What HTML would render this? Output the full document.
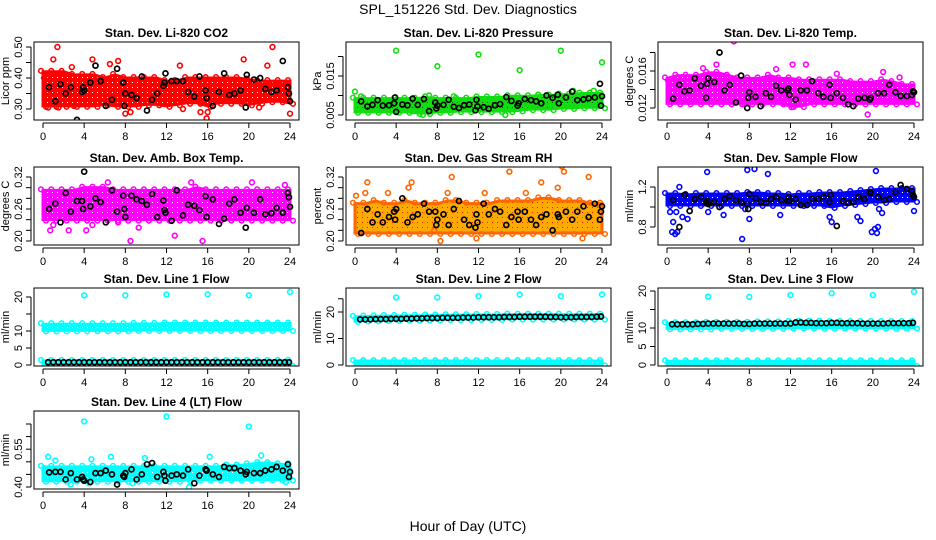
<!DOCTYPE html>
<html><head><meta charset="utf-8">
<style>
html,body{margin:0;padding:0;background:#fff;}
svg{display:block;font-family:"Liberation Sans",Arial,sans-serif;}
</style></head>
<body>
<svg id="chart" width="936" height="540" viewBox="0 0 936 540" xmlns="http://www.w3.org/2000/svg">
<rect x="0" y="0" width="936" height="540" fill="#fff"/>
<text x="468" y="14" text-anchor="middle" font-size="14">SPL_151226  Std. Dev. Diagnostics</text>
<text x="468" y="531" text-anchor="middle" font-size="14">Hour of Day (UTC)</text>
</svg>
<script>
// ---------- shared data ----------
const xTicks = [0,4,8,12,16,20,24];
const bandHours = [0,1,2,3,4,5,6,7,8,9,10,11,12,13,14,15,16,17,18,19,20,21,22,23,24];
const blkHours = [0.6,1.2,1.7,2.2,2.7,3.3,3.8,3.9,4.0,4.6,5.1,5.6,6.1,6.7,7.2,7.8,7.9,8.0,8.6,9.1,9.6,10.1,10.6,11.1,11.7,11.8,11.9,12.5,13.0,13.6,14.1,14.7,15.2,15.8,15.9,16.5,17.1,17.6,18.1,18.6,19.2,19.7,19.8,20.5,21.1,21.6,22.2,22.7,23.3,23.8,23.9,24.0];
const halfHours = [0.5,1,1.5,2,2.5,3,3.5,4,4.5,5,5.5,6,6.5,7,7.5,8,8.5,9,9.5,10,10.5,11,11.5,12,12.5,13,13.5,14,14.5,15,15.5,16,16.5,17,17.5,18,18.5,19,19.5,20,20.5,21,21.5,22,22.5,23,23.5,23.9];

// Panel 1 CO2
const co2Lo = [0.31,0.31,0.31,0.31,0.31,0.31,0.315,0.31,0.31,0.31,0.315,0.315,0.31,0.315,0.32,0.32,0.31,0.32,0.32,0.32,0.315,0.32,0.325,0.325,0.32];
const co2Hi = [0.42,0.42,0.42,0.41,0.41,0.41,0.40,0.41,0.40,0.40,0.40,0.40,0.39,0.39,0.40,0.40,0.40,0.40,0.40,0.40,0.395,0.39,0.39,0.39,0.39];
const co2OutX = [0.1,0.2,0.5,1.0,1.4,1.5,4.8,6.5,7.3,8.0,8.5,13.3,13.6,15.3,15.9,16.0,19.5,21.0,21.8,22.3,24.0,2.8,3.0];
const co2OutY = [0.40,0.345,0.305,0.46,0.50,0.305,0.46,0.445,0.455,0.285,0.29,0.44,0.30,0.29,0.27,0.29,0.46,0.305,0.44,0.50,0.285,0.435,0.31];
const co2Blk = [0.37,0.325,0.38,0.35,0.37,0.265,0.355,0.37,0.36,0.385,0.44,0.39,0.31,0.33,0.43,0.385,0.31,0.35,0.345,0.335,0.405,0.295,0.33,0.35,0.375,0.385,0.415,0.39,0.39,0.39,0.355,0.34,0.405,0.36,0.335,0.31,0.355,0.415,0.345,0.35,0.36,0.305,0.41,0.395,0.40,0.365,0.355,0.36,0.455,0.37,0.35,0.325];

// Panel 2 Pressure
const presLo = [0.0058,0.0058,0.0058,0.0058,0.0058,0.0058,0.0055,0.0055,0.0058,0.0058,0.006,0.006,0.006,0.006,0.006,0.006,0.0062,0.0065,0.0065,0.0065,0.0068,0.0068,0.007,0.007,0.007];
const presHi = [0.0092,0.0092,0.0092,0.0092,0.0092,0.0092,0.0092,0.0095,0.0092,0.0092,0.0092,0.0092,0.0095,0.0095,0.0095,0.0098,0.0098,0.0098,0.010,0.010,0.0102,0.0102,0.0105,0.0105,0.0105];
const presOutX = [0,4,8,12,16,20,24,0.6,14.6,6.6,7.2,9.6,17.8,21.2,23.2];
const presOutY = [0.011,0.0215,0.0175,0.0205,0.0165,0.0215,0.0185,0.0098,0.0050,0.0050,0.0100,0.0098,0.0102,0.0112,0.0112];
const presBlk = [0.0085,0.0072,0.0076,0.0088,0.0074,0.0075,0.0080,0.0095,0.0058,0.0077,0.0075,0.0092,0.0076,0.0091,0.0060,0.0082,0.0067,0.0074,0.0076,0.0089,0.0071,0.0068,0.0075,0.0077,0.0062,0.0089,0.0072,0.0070,0.0066,0.0075,0.0078,0.0096,0.0086,0.0074,0.0080,0.0091,0.0088,0.0085,0.0080,0.0100,0.0094,0.0102,0.0080,0.0095,0.0110,0.0088,0.0090,0.0093,0.0095,0.0130,0.0074,0.0098];

// Panel 3 Li-820 Temp
const tmpLo = [0.0125,0.0125,0.0125,0.0125,0.0125,0.0125,0.0125,0.0125,0.0125,0.0125,0.0125,0.0125,0.0122,0.0122,0.0125,0.0125,0.0125,0.0125,0.0125,0.0125,0.0125,0.0125,0.0125,0.0125,0.0125];
const tmpHi = [0.0152,0.0155,0.0155,0.0155,0.0158,0.0158,0.0155,0.0152,0.0152,0.0152,0.0155,0.0152,0.0152,0.0150,0.0150,0.0150,0.0150,0.0150,0.0148,0.0148,0.0148,0.0150,0.0148,0.0145,0.0145];
const tmpOutX = [6.5,4.8,3.5,12.2,13.5,19.5,7.5,12.1,0.1,0.3,10.6,16.5,21.0,22.6];
const tmpOutY = [0.0192,0.0167,0.0163,0.0167,0.0167,0.0113,0.0124,0.0121,0.0150,0.0150,0.0162,0.0157,0.0159,0.0153];
const tmpBlk = [0.0130,0.0145,0.0138,0.0139,0.0152,0.0144,0.0131,0.0146,0.0152,0.0148,0.0180,0.0139,0.0145,0.0126,0.0155,0.0120,0.0131,0.0137,0.0132,0.0122,0.0136,0.0132,0.0144,0.0139,0.0139,0.0141,0.0134,0.0129,0.0139,0.0139,0.0149,0.0136,0.0132,0.0145,0.0131,0.0136,0.0131,0.0124,0.0122,0.0130,0.0131,0.0129,0.0131,0.0136,0.0136,0.0145,0.0137,0.0133,0.0133,0.0134,0.0138,0.0137];

// Panel 4 Amb Box Temp
const ambLo = [0.24,0.24,0.24,0.24,0.24,0.24,0.24,0.24,0.24,0.24,0.24,0.24,0.24,0.24,0.24,0.24,0.24,0.24,0.24,0.24,0.24,0.24,0.24,0.24,0.24];
const ambHi = [0.295,0.295,0.295,0.295,0.30,0.30,0.30,0.295,0.295,0.295,0.295,0.295,0.295,0.295,0.295,0.30,0.295,0.295,0.295,0.295,0.295,0.295,0.295,0.295,0.295];
const ambOutX = [0.7,2.5,4.2,7.3,12.8,8.5,15.5,4.8,9.3,6.3,14.4,20.3,23.5,1.0];
const ambOutY = [0.22,0.22,0.22,0.235,0.21,0.20,0.20,0.23,0.225,0.31,0.31,0.31,0.305,0.23];
const ambBlk = [0.26,0.27,0.235,0.29,0.255,0.275,0.275,0.26,0.33,0.265,0.28,0.273,0.235,0.295,0.255,0.285,0.26,0.245,0.285,0.278,0.275,0.268,0.288,0.245,0.276,0.258,0.253,0.238,0.295,0.248,0.268,0.266,0.258,0.284,0.245,0.278,0.232,0.242,0.27,0.278,0.253,0.225,0.262,0.253,0.278,0.25,0.252,0.262,0.253,0.29,0.282,0.264];

// Panel 5 Gas Stream RH
const rhLo = [0.215,0.215,0.215,0.215,0.215,0.215,0.215,0.215,0.215,0.215,0.215,0.215,0.215,0.215,0.215,0.215,0.215,0.215,0.215,0.215,0.215,0.215,0.215,0.215,0.215];
const rhHi = [0.27,0.27,0.275,0.27,0.27,0.275,0.27,0.27,0.27,0.275,0.275,0.27,0.27,0.27,0.275,0.275,0.275,0.275,0.28,0.28,0.275,0.275,0.275,0.27,0.27];
const rhOutX = [0.1,1.2,1.0,5.2,5.5,9.0,9.4,15.0,19.7,20.3,20.1,18.1,22.7,8.3,22.1,11.8,7.7,3.2,12.6,16.6];
const rhOutY = [0.285,0.31,0.29,0.30,0.31,0.29,0.32,0.33,0.30,0.33,0.34,0.31,0.32,0.20,0.205,0.205,0.22,0.29,0.29,0.29];
const rhBlk = [0.215,0.26,0.235,0.25,0.235,0.245,0.255,0.24,0.26,0.28,0.235,0.245,0.25,0.27,0.255,0.255,0.23,0.24,0.25,0.23,0.26,0.275,0.24,0.23,0.225,0.25,0.235,0.27,0.25,0.26,0.255,0.23,0.245,0.255,0.24,0.255,0.24,0.23,0.245,0.25,0.22,0.25,0.245,0.255,0.24,0.255,0.265,0.245,0.27,0.24,0.255,0.265];

// Panel 6 Sample Flow
const flwLo = [1.02,1.02,1.02,1.02,1.02,1.02,1.02,1.02,1.02,1.02,1.02,1.02,1.02,1.02,1.02,1.02,1.00,1.02,1.03,1.04,1.05,1.05,1.06,1.06,1.06];
const flwHi = [1.13,1.13,1.12,1.13,1.13,1.13,1.13,1.13,1.14,1.14,1.13,1.13,1.12,1.13,1.13,1.14,1.14,1.14,1.15,1.16,1.17,1.18,1.18,1.18,1.18];
const flwOutX = [0.3,0.5,0.6,0.8,1.0,1.5,2.0,1.2,3.9,7.7,7.8,8.0,8.5,9.8,7.3,11.0,15.8,16.0,18.5,18.8,19.9,20.2,20.4,20.5,20.9,20.6,20.3,7.6,24.0,0.9,4.0,5.5];
const flwOutY = [0.95,0.75,0.85,0.73,0.75,0.90,0.88,1.20,1.35,1.42,1.37,0.88,1.38,1.33,0.68,0.92,0.90,0.85,0.90,0.86,0.75,0.78,0.74,0.80,0.94,0.98,1.36,0.98,0.96,0.95,0.95,0.92];
const flwBlk = [1.07,0.80,1.12,0.96,1.08,1.10,1.04,1.06,1.03,1.05,1.00,1.08,1.11,1.07,1.05,1.03,0.98,1.13,1.09,1.05,1.04,1.08,1.10,1.07,1.06,1.10,1.06,1.08,1.02,1.02,1.08,1.08,1.10,1.05,1.12,0.81,1.06,1.04,1.05,1.10,1.08,1.15,1.14,1.10,1.07,1.08,1.15,1.22,1.18,1.16,1.12,1.10];

// Panel 7 Line 1
const l1HiLo = [10.2,10.2,10.2,10.2,10.2,10.2,10.2,10.2,10.2,10.3,10.3,10.3,10.3,10.3,10.3,10.3,10.3,10.3,10.3,10.3,10.3,10.3,10.3,10.3,10.3];
const l1HiHi = [12.0,12.0,12.0,12.0,12.0,12.0,12.0,12.0,12.0,12.1,12.1,12.1,12.2,12.2,12.2,12.2,12.2,12.2,12.2,12.2,12.2,12.2,12.2,12.2,12.2];
const l1BaseLo = [0,0,0,0,0,0,0,0,0,0,0,0,0,0,0,0,0,0,0,0,0,0,0,0,0];
const l1BaseHi = [1.2,1.2,1.2,1.2,1.2,1.2,1.2,1.2,1.2,1.2,1.2,1.2,1.2,1.2,1.2,1.2,1.2,1.2,1.2,1.2,1.2,1.2,1.2,1.2,1.2];
const l1OutX = [4,8,12,16,20,24];
const l1OutY = [20.5,20.5,20.7,20.8,20.5,21.5];
const l1Blk = [0.8,0.8,0.8,0.8,0.8,0.8,0.8,0.8,0.8,0.8,0.8,0.8,0.8,0.8,0.8,0.8,0.8,0.8,0.8,0.8,0.8,0.8,0.8,0.8,0.8,0.8,0.8,0.8,0.8,0.8,0.8,0.8,0.8,0.8,0.8,0.8,0.8,0.8,0.8,0.8,0.8,0.8,0.8,0.8,0.8,0.8,0.8,0.8];

// Panel 8 Line 2
const l2HiLo = [16.6,16.8,16.9,17.0,17.0,17.1,17.1,17.2,17.2,17.3,17.3,17.3,17.4,17.4,17.4,17.5,17.5,17.5,17.5,17.5,17.5,17.5,17.5,17.5,17.5];
const l2HiHi = [18.2,18.3,18.4,18.5,18.5,18.6,18.6,18.7,18.7,18.8,18.8,18.8,18.9,18.9,18.9,19.0,19.0,19.0,19.0,19.0,19.0,19.0,19.0,19.0,19.0];
const l2BaseLo = [0.2,0.2,0.2,0.2,0.2,0.2,0.2,0.2,0.2,0.2,0.2,0.2,0.2,0.2,0.2,0.2,0.2,0.2,0.2,0.2,0.2,0.2,0.2,0.2,0.2];
const l2BaseHi = [1.5,1.5,1.5,1.5,1.5,1.5,1.5,1.5,1.5,1.5,1.5,1.5,1.5,1.5,1.5,1.5,1.5,1.5,1.5,1.5,1.5,1.5,1.5,1.5,1.5];
const l2OutX = [4,8,12,16,20,24];
const l2OutY = [25.5,25.5,26.0,26.6,26.0,26.6];
const l2Blk = [17.2,17.2,17.2,17.3,17.3,17.3,17.4,17.4,17.4,17.5,17.5,17.6,17.6,17.7,17.7,17.7,17.8,17.8,17.8,17.8,17.9,17.9,17.9,18.0,18.0,18.0,18.0,18.0,18.1,18.1,18.1,18.2,18.2,18.2,18.2,18.2,18.2,18.1,18.1,18.0,18.0,18.0,18.1,18.1,18.1,18.1,18.2,18.3];

// Panel 9 Line 3
const l3HiLo = [9.9,9.9,9.9,9.9,9.9,10.0,10.0,10.0,10.0,10.0,10.0,10.0,10.1,10.1,10.1,10.1,10.1,10.1,10.1,10.1,10.1,10.1,10.1,10.1,10.1];
const l3HiHi = [11.3,11.3,11.3,11.3,11.4,11.4,11.4,11.4,11.4,11.5,11.5,11.5,11.6,11.7,11.7,11.7,11.6,11.6,11.6,11.6,11.6,11.6,11.6,11.6,11.6];
const l3BaseLo = [0,0,0,0,0,0,0,0,0,0,0,0,0,0,0,0,0,0,0,0,0,0,0,0,0];
const l3BaseHi = [1.0,1.0,1.0,1.0,1.0,1.0,1.0,1.0,1.0,1.0,1.0,1.0,1.0,1.0,1.0,1.0,1.0,1.0,1.0,1.0,1.0,1.0,1.0,1.0,1.0];
const l3OutX = [4,8,12,16,20,24];
const l3OutY = [18.5,18.4,18.9,19.4,18.9,19.8];
const l3Blk = [11.0,11.0,11.0,11.0,11.0,11.1,11.1,11.2,11.2,11.2,11.2,11.2,11.2,11.2,11.1,11.1,11.2,11.2,11.2,11.2,11.2,11.2,11.2,11.2,11.5,11.5,11.4,11.4,11.3,11.3,11.3,11.4,11.4,11.3,11.3,11.3,11.3,11.2,11.2,11.2,11.2,11.2,11.3,11.3,11.3,11.3,11.3,11.4];

// Panel 10 Line 4
const l4Lo = [0.425,0.425,0.425,0.425,0.425,0.425,0.425,0.425,0.425,0.425,0.425,0.425,0.425,0.425,0.428,0.43,0.43,0.43,0.43,0.43,0.43,0.43,0.43,0.43,0.43];
const l4Hi = [0.48,0.48,0.48,0.48,0.48,0.48,0.48,0.48,0.48,0.48,0.48,0.48,0.48,0.48,0.48,0.48,0.48,0.48,0.485,0.485,0.49,0.495,0.495,0.49,0.49];
const l4OutX = [4.0,12.0,20.0,0.5,2.7,14.2,16.2,21.2,23.6,1.2,4.7,6.6,9.9,8.7,4.5];
const l4OutY = [0.66,0.68,0.64,0.52,0.41,0.40,0.52,0.525,0.42,0.505,0.51,0.52,0.515,0.415,0.415];
const l4Blk = [0.458,0.46,0.46,0.43,0.455,0.43,0.44,0.43,0.425,0.42,0.455,0.455,0.465,0.45,0.41,0.445,0.44,0.455,0.47,0.43,0.45,0.49,0.495,0.44,0.46,0.445,0.425,0.445,0.45,0.445,0.47,0.415,0.445,0.47,0.465,0.45,0.44,0.48,0.475,0.475,0.465,0.45,0.46,0.455,0.455,0.465,0.47,0.48,0.465,0.49,0.44,0.46];

// ---------- drawing ----------
const NS = 'http://www.w3.org/2000/svg';
const svg = document.getElementById('chart');
const colLeft = [34,346,658];
const rowTop = [42,167,288,411];
const boxW = 265, boxH = 78;

function mk(tag, attrs, parent) {
  const e = document.createElementNS(NS, tag);
  for (const k in attrs) e.setAttribute(k, attrs[k]);
  (parent || svg).appendChild(e);
  return e;
}
const defs = mk('defs', {});

const panels = [
  {key:'co2', title:'Stan. Dev. Li-820 CO2', ylab:'Licor ppm', c:0, r:0, cal:[0.30,109,0.50,47], ticks:[0.30,0.35,0.40,0.45,0.50], labels:['0.30','','0.40','','0.50'], color:'#ff0000', bands:[[co2Lo,co2Hi]], outX:co2OutX, outY:co2OutY, bx:blkHours, by:co2Blk},
  {key:'pressure', title:'Stan. Dev. Li-820 Pressure', ylab:'kPa', c:1, r:0, cal:[0.005,115,0.015,76], ticks:[0.005,0.010,0.015,0.020], labels:['0.005','','0.015',''], color:'#11dd11', dot:'#005500', bands:[[presLo,presHi]], outX:presOutX, outY:presOutY, bx:blkHours, by:presBlk},
  {key:'li820-temp', title:'Stan. Dev. Li-820 Temp.', ylab:'degrees C', c:2, r:0, cal:[0.012,108,0.016,71], ticks:[0.012,0.014,0.016,0.018], labels:['0.012','','0.016',''], color:'#ff00ff', bands:[[tmpLo,tmpHi]], outX:tmpOutX, outY:tmpOutY, bx:blkHours, by:tmpBlk},
  {key:'amb-box-temp', title:'Stan. Dev. Amb. Box Temp.', ylab:'degrees C', c:0, r:1, cal:[0.20,241,0.32,177], ticks:[0.20,0.22,0.24,0.26,0.28,0.30,0.32], labels:['0.20','','','0.26','','','0.32'], color:'#ff00ff', bands:[[ambLo,ambHi]], outX:ambOutX, outY:ambOutY, bx:blkHours, by:ambBlk},
  {key:'gas-rh', title:'Stan. Dev. Gas Stream RH', ylab:'percent', c:1, r:1, cal:[0.20,241,0.32,177], ticks:[0.20,0.22,0.24,0.26,0.28,0.30,0.32], labels:['0.20','','','0.26','','','0.32'], color:'#ffaa00', dot:'#ee2200', edge:'#ff6600', bands:[[rhLo,rhHi]], outX:rhOutX, outY:rhOutY, bx:blkHours, by:rhBlk},
  {key:'sample-flow', title:'Stan. Dev. Sample Flow', ylab:'ml/min', c:2, r:1, cal:[0.8,227,1.2,187], ticks:[0.8,1.0,1.2], labels:['0.8','','1.2'], color:'#0000ff', bands:[[flwLo,flwHi]], outX:flwOutX, outY:flwOutY, bx:blkHours, by:flwBlk},
  {key:'line1-flow', title:'Stan. Dev. Line 1 Flow', ylab:'ml/min', c:0, r:2, cal:[0,365,20,297], ticks:[0,5,10,15,20], labels:['0','5','10','','20'], color:'#00ffff', bands:[[l1HiLo,l1HiHi],[l1BaseLo,l1BaseHi]], outX:l1OutX, outY:l1OutY, bx:halfHours, by:l1Blk},
  {key:'line2-flow', title:'Stan. Dev. Line 2 Flow', ylab:'ml/min', c:1, r:2, cal:[0,365,20,312], ticks:[0,10,20,25], labels:['0','10','20',''], color:'#00ffff', bands:[[l2HiLo,l2HiHi],[l2BaseLo,l2BaseHi]], outX:l2OutX, outY:l2OutY, bx:halfHours, by:l2Blk},
  {key:'line3-flow', title:'Stan. Dev. Line 3 Flow', ylab:'ml/min', c:2, r:2, cal:[0,365,20,291], ticks:[0,5,10,15,20], labels:['0','5','10','','20'], color:'#00ffff', bands:[[l3HiLo,l3HiHi],[l3BaseLo,l3BaseHi]], outX:l3OutX, outY:l3OutY, bx:halfHours, by:l3Blk},
  {key:'line4-flow', title:'Stan. Dev. Line 4 (LT) Flow', ylab:'ml/min', c:0, r:3, cal:[0.40,487,0.65,424], ticks:[0.40,0.45,0.50,0.55,0.60,0.65], labels:['0.40','','','0.55','',''], color:'#00ffff', bands:[[l4Lo,l4Hi]], outX:l4OutX, outY:l4OutY, bx:blkHours, by:l4Blk}
];

panels.forEach(p => {
  const L = colLeft[p.c], T = rowTop[p.r];
  const x0 = L + 9, xs = 247 / 24;
  const X = h => x0 + h * xs;
  const Y = v => p.cal[1] + (v - p.cal[0]) * (p.cal[3] - p.cal[1]) / (p.cal[2] - p.cal[0]);
  const g = mk('g', {});
  
  
  const clipId = 'clip-' + p.key;
  const cp = mk('clipPath', {id: clipId}, g);
  mk('rect', {x: L, y: T, width: boxW, height: boxH}, cp);
  // texture pattern for cloud
  const patId = 'pat-' + p.key;
  const pat = mk('pattern', {id: patId, width: 5, height: 5, patternUnits: 'userSpaceOnUse'}, defs);
  mk('rect', {x: 0, y: 0, width: 5, height: 5, fill: p.color}, pat);
  mk('rect', {x: 2, y: 2, width: 1, height: 1, fill: p.dot || '#ffffff'}, pat);
  const plot = mk('g', {'clip-path': 'url(#' + clipId + ')'}, g);
  
  

  const edge = p.edge || p.color;
  p.bands.forEach((b, bi) => {
    const lo = b[0], hi = b[1];
    let pts = [];
    bandHours.forEach((h, i) => pts.push(X(h) + ',' + Y(hi[i])));
    for (let i = bandHours.length - 1; i >= 0; i--) pts.push(X(bandHours[i]) + ',' + Y(lo[i]));
    const poly = mk('polygon', {points: pts.join(' '), fill: 'url(#' + patId + ')', stroke: edge, 'stroke-width': 3}, plot);
    
    
    bandHours.forEach((h, i) => {
      [hi[i], lo[i]].forEach((v, k) => {
        const c = mk('circle', {cx: X(h) + (k ? 3 : -2), cy: Y(v) + (k ? 1 : -1), r: 2.3, fill: 'none', stroke: edge, 'stroke-width': 1.5}, plot);
        
        
      });
    });
  });
  p.outX.forEach((h, i) => {
    const c = mk('circle', {cx: X(h), cy: Y(p.outY[i]), r: 2.4, fill: 'none', stroke: edge, 'stroke-width': 1.6}, plot);
    
    
  });
  const n = Math.min(p.bx.length, p.by.length);
  for (let i = 0; i < n; i++) {
    const c = mk('circle', {cx: X(p.bx[i]), cy: Y(p.by[i]), r: 2.5, fill: 'none', stroke: '#000', 'stroke-width': 1.7}, plot);
    
    
  }
  const box = mk('rect', {x: L, y: T, width: boxW, height: boxH, fill: 'none', stroke: '#000', 'stroke-width': 1}, g);
  
  
  const t = mk('text', {x: L + boxW / 2, y: T - 5, 'text-anchor': 'middle', 'font-size': 12, 'font-weight': 'bold'}, g);
  t.textContent = p.title;
  
  
  const ay = T + boxH + 3;
  mk('line', {x1: X(0), x2: X(24), y1: ay, y2: ay, stroke: '#000'}, g);
  xTicks.forEach(h => {
    mk('line', {x1: X(h), x2: X(h), y1: ay, y2: ay + 5, stroke: '#000'}, g);
    const tl = mk('text', {x: X(h), y: ay + 17, 'text-anchor': 'middle', 'font-size': 11}, g);
    tl.textContent = h;
    
    
  });
  const ax = L - 3;
  mk('line', {x1: ax, x2: ax, y1: Y(p.ticks[0]), y2: Y(p.ticks[p.ticks.length - 1]), stroke: '#000'}, g);
  p.ticks.forEach((v, i) => {
    mk('line', {x1: ax - 5, x2: ax, y1: Y(v), y2: Y(v), stroke: '#000'}, g);
    if (p.labels[i]) {
      const yl = mk('text', {x: 0, y: 0, 'text-anchor': 'middle', 'font-size': 11, transform: 'translate(' + (ax - 9) + ',' + Y(v) + ') rotate(-90)'}, g);
      yl.textContent = p.labels[i];
      
      
    }
  });
  const yt = mk('text', {x: 0, y: 0, 'text-anchor': 'middle', 'font-size': 11, transform: 'translate(' + (L - 25) + ',' + (T + boxH / 2) + ') rotate(-90)'}, g);
  yt.textContent = p.ylab;
  
  
});
</script>
</body></html>
